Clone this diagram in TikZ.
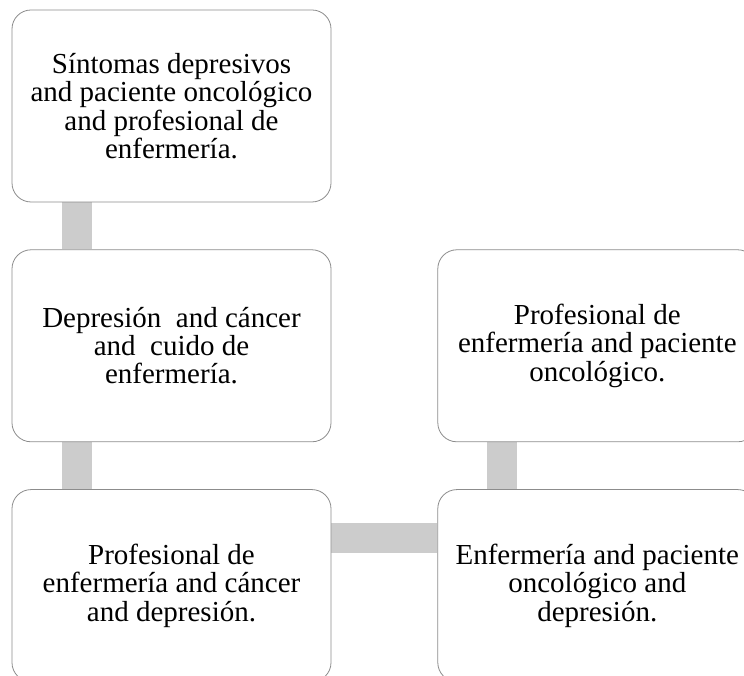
\documentclass[tikz,border=0pt]{standalone}
\usepackage{fontspec}
\setmainfont{LiberationSerif}[Extension=.ttf, UprightFont=*-Regular,
  BoldFont=*-Bold, ItalicFont=*-Italic, BoldItalicFont=*-BoldItalic]
\usetikzlibrary{positioning,backgrounds}
\definecolor{barGray}{RGB}{204,204,204}
\definecolor{edgeGray}{RGB}{140,140,140}

\begin{document}
\begin{tikzpicture}[x=1pt, y=1pt,
  box/.style={draw=edgeGray, line width=0.8pt, fill=white,
    rounded corners=19pt, minimum width=319pt, minimum height=192pt,
    inner sep=0pt, align=center, font=\fontsize{29}{28.3}\selectfont},
  bar/.style={barGray, line width=30pt}]
  \useasboundingbox (0,0) rectangle (744,676);
  \clip (0,0) rectangle (744,676);
  % Left column
  \node[box] (sintomas) at (171.5,570)
    {Síntomas depresivos\\and paciente oncológico\\and profesional de\\enfermería.};
  \node[box, below=47pt of sintomas] (depresion)
    {Depresión\ \ and cáncer\\and\ \ cuido de\\enfermería.};
  \node[box, below=47pt of depresion] (profesional)
    {Profesional de\\enfermería and cáncer\\and depresión.};
  % Right column
  \node[box, right=106pt of depresion] (pacienteOnco)
    {Profesional de\\enfermería and paciente\\oncológico.};
  \node[box, below=47pt of pacienteOnco] (enfermeria)
    {Enfermería and paciente\\oncológico and\\depresión.};
  % Connectors
  \begin{scope}[on background layer]
    \draw[bar] ([xshift=65pt]sintomas.south west) -- ([xshift=65pt]depresion.north west);
    \draw[bar] ([xshift=65pt]depresion.south west) -- ([xshift=65pt]profesional.north west);
    \draw[bar] ([yshift=-49pt]profesional.north east) -- ([yshift=-49pt]enfermeria.north west);
    \draw[bar] ([xshift=65pt]pacienteOnco.south west) -- ([xshift=65pt]enfermeria.north west);
  \end{scope}
\end{tikzpicture}
\end{document}
